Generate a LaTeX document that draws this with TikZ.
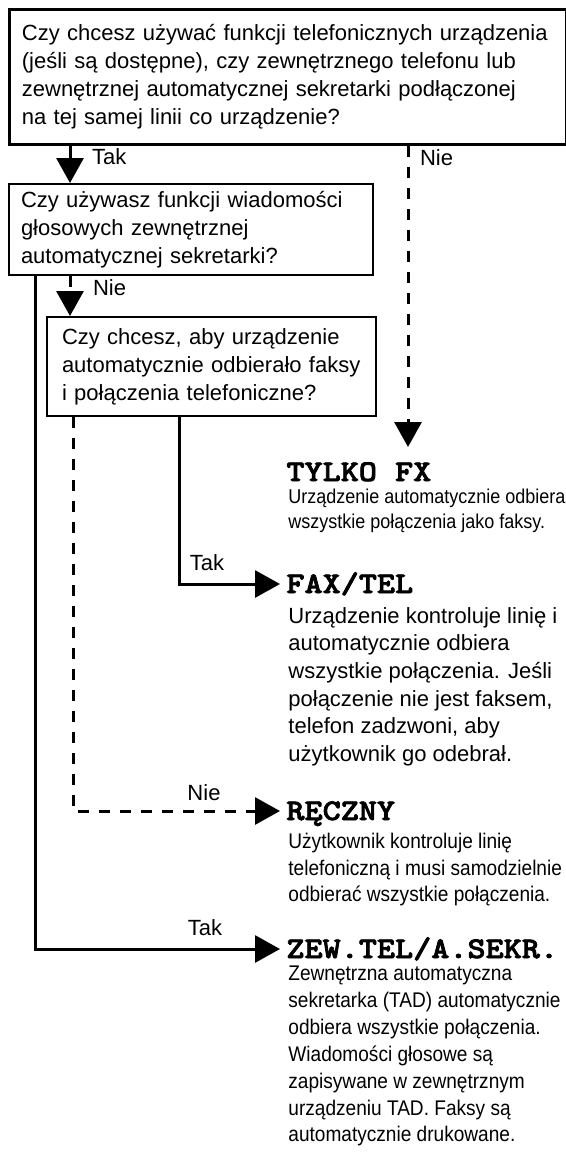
\documentclass[tikz,border=0pt]{standalone}
\usepackage{fontspec}
\setmainfont{Liberation Sans}
\newfontfamily\schmal[FakeStretch=0.9]{Liberation Sans}
\newfontfamily\modus[FakeStretch=1.15, FakeBold=2.5]{lmmonolt10-bold.otf}
\usetikzlibrary{arrows.meta}
\tikzset{
	frage/.style={draw, rectangle, align=left, anchor=north west, line width=1pt, font=\fontsize{11}{14}\selectfont},
	antwort/.style={font=\fontsize{11}{14}\selectfont},
	titel/.style={anchor=west, inner xsep=3pt, inner ysep=0pt, text height=9pt, text depth=0pt, font=\modus\fontsize{15}{18}\selectfont},
	info/.style={anchor=north west, inner sep=0pt, align=left},
	pfeil/.style={line width=1.5pt, -{Triangle[length=12.5pt,width=13.5pt]}},
	strich/.style={dash pattern=on 5.5pt off 5pt}
}
\begin{document}
\begin{tikzpicture}[x=0.5pt, y=-0.5pt]
		\useasboundingbox (0,0) rectangle (566,1157);
		% Fragen
		\node[frage, line width=1.4pt, text width=266pt, inner xsep=6.25pt, minimum height=67.5pt] (frage1) at (8,8) {Czy chcesz używać funkcji telefonicznych urządzenia\\(jeśli są dostępne), czy zewnętrznego telefonu lub\\zewnętrznej automatycznej sekretarki podłączonej\\na tej samej linii co urządzenie?};
		\node[frage, text width=170pt, inner xsep=6pt, minimum height=45.5pt] (frage2) at (8,183) {Czy używasz funkcji wiadomości\\głosowych zewnętrznej\\automatycznej sekretarki?};
		\node[frage, text width=149.5pt, inner xsep=7.5pt, minimum height=49.5pt] (frage3) at (46,316) {Czy chcesz, aby urządzenie\\automatycznie odbierało faksy\\i połączenia telefoniczne?};
		% Modi
		\node[titel] (tylko) at (280,472) {TYLKO FX};
		\node[titel] (faxtel) at (280,584) {FAX/TEL};
		\node[titel] (reczny) at (280,811) {RĘCZNY};
		\node[titel] (zewtel) at (280,949) {ZEW.TEL/A.SEKR.};
		% Beschreibungen
		\node[info, font=\schmal\fontsize{10}{12.5}\selectfont] (tylkoInfo) at (288,489) {Urządzenie automatycznie odbiera\\wszystkie połączenia jako faksy.};
		\node[info, font=\fontsize{11}{13.8}\selectfont] (faxtelInfo) at (288,607) {Urządzenie kontroluje linię i\\automatycznie odbiera\\wszystkie połączenia. Jeśli\\połączenie nie jest faksem,\\telefon zadzwoni, aby\\użytkownik go odebrał.};
		\node[info, font=\schmal\fontsize{10.6}{13.3}\selectfont] (recznyInfo) at (288,833) {Użytkownik kontroluje linię\\telefoniczną i musi samodzielnie\\odbierać wszystkie połączenia.};
		\node[info, font=\schmal\fontsize{10.6}{13.5}\selectfont] (zewtelInfo) at (288,965) {Zewnętrzna automatyczna\\sekretarka (TAD) automatycznie\\odbiera wszystkie połączenia.\\Wiadomości głosowe są\\zapisywane w zewnętrznym\\urządzeniu TAD. Faksy są\\automatycznie drukowane.};
		% Spalten der Pfeile
		\coordinate (spalteA) at (35,0);
		\coordinate (spalteB) at (70,0);
		\coordinate (spalteC) at (73,0);
		\coordinate (spalteD) at (179,0);
		\coordinate (spalteE) at (408,0);
		\coordinate (fxEnde) at (408,447);
		% Pfeile
		\draw[pfeil] (spalteB |- frage1.south) -- (spalteB |- frage2.north);
		\draw[pfeil, strich] (spalteE |- frage1.south) -- (fxEnde);
		\draw[pfeil, strich] (spalteB |- frage2.south) -- (spalteB |- frage3.north);
		\draw[pfeil] (spalteA |- frage2.south) -- (spalteA |- zewtel.west) -- (zewtel.west);
		\draw[pfeil] (spalteD |- frage3.south) -- (spalteD |- faxtel.west) -- (faxtel.west);
		\draw[pfeil, strich] (spalteC |- frage3.south) -- (spalteC |- reczny.west) -- (reczny.west);
		% Antworten
		\node[antwort, anchor=west] (takA) at (85,157) {Tak};
		\node[antwort, anchor=west] (nieA) at (413,158) {Nie};
		\node[antwort, anchor=west] (nieB) at (86,288) {Nie};
		\node[antwort] (takB) at (207,563) {Tak};
		\node[antwort] (nieC) at (204,793) {Nie};
		\node[antwort] (takC) at (205,928) {Tak};
	\end{tikzpicture}
\end{document}
